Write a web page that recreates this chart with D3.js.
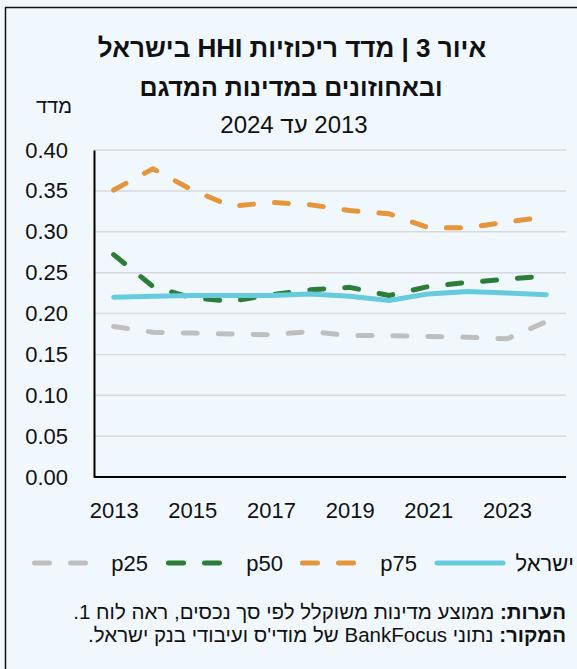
<!DOCTYPE html>
<html lang="he">
<head>
<meta charset="utf-8">
<script src="https://cdn.jsdelivr.net/npm/d3@7"></script>
<style>
  html, body { margin: 0; padding: 0; background: #f0f8fe; }
  svg { display: block; font-family: "Liberation Sans", Arial, sans-serif; }
</style>
</head>
<body>
<div id="wrapper"></div>
<script>
// data
const years = [2013, 2014, 2015, 2016, 2017, 2018, 2019, 2020, 2021, 2022, 2023, 2024];
const yearTicks = [2013, 2015, 2017, 2019, 2021, 2023];
const israel = [0.220, 0.221, 0.222, 0.222, 0.222, 0.224, 0.221, 0.216, 0.224, 0.227, 0.225, 0.223];
const p25 = [0.184, 0.177, 0.176, 0.175, 0.174, 0.178, 0.173, 0.173, 0.172, 0.171, 0.169, 0.190];
const p50 = [0.272, 0.233, 0.219, 0.215, 0.223, 0.229, 0.232, 0.222, 0.233, 0.238, 0.242, 0.246];
const p75 = [0.351, 0.377, 0.351, 0.331, 0.336, 0.333, 0.326, 0.322, 0.305, 0.305, 0.312, 0.318];
const yTicks = [0, 0.05, 0.1, 0.15, 0.2, 0.25, 0.3, 0.35, 0.4];

const series = [
  { name: "ישראל", values: israel, color: "#66cbdd", dashed: false },
  { name: "p75", values: p75, color: "#e5963a", dashed: true },
  { name: "p50", values: p50, color: "#2b7d38", dashed: true },
  { name: "p25", values: p25, color: "#bfbfbf", dashed: true }
];

const dimensions = {
  width: 577,
  height: 669,
  margin: { top: 150, right: 11, bottom: 192, left: 94 }
};
dimensions.boundedWidth = dimensions.width - dimensions.margin.left - dimensions.margin.right;
dimensions.boundedHeight = dimensions.height - dimensions.margin.top - dimensions.margin.bottom;

const wrapper = d3.select("#wrapper")
  .append("svg")
  .attr("width", dimensions.width)
  .attr("height", dimensions.height);

// frame
wrapper.append("rect")
  .attr("x", 5.5).attr("y", 7.5)
  .attr("width", 600).attr("height", 700)
  .attr("fill", "#f0f8fe")
  .attr("stroke", "#111").attr("stroke-width", 1.5);

// titles
const titles = wrapper.append("g").attr("text-anchor", "middle").attr("fill", "#111");
titles.append("text").attr("x", 292).attr("y", 57)
  .attr("direction", "rtl")
  .attr("font-size", 26).attr("font-weight", "bold")
  .text("איור 3 | מדד ריכוזיות HHI בישראל");
titles.append("text").attr("x", 291).attr("y", 96)
  .attr("direction", "rtl")
  .attr("font-size", 25).attr("font-weight", "bold")
  .text("ובאחוזונים במדינות המדגם");
titles.append("text").attr("x", 294).attr("y", 133)
  .attr("direction", "rtl")
  .attr("font-size", 24)
  .text("2013 עד 2024");
titles.append("text").attr("x", 54).attr("y", 113)
  .attr("font-size", 20)
  .text("מדד");

const bounds = wrapper.append("g")
  .attr("transform", `translate(${dimensions.margin.left},${dimensions.margin.top})`);

// scales
const xScale = d3.scalePoint()
  .domain(years)
  .range([0, dimensions.boundedWidth])
  .padding(0.5);

const yScale = d3.scaleLinear()
  .domain([0, 0.4])
  .range([dimensions.boundedHeight, 0]);

// gridlines
bounds.append("g")
  .selectAll("line")
  .data(yTicks.filter(d => d > 0))
  .join("line")
  .attr("x1", 0).attr("x2", dimensions.boundedWidth)
  .attr("y1", d => yScale(d)).attr("y2", d => yScale(d))
  .attr("stroke", "#d9d9d9").attr("stroke-width", 1.5);

// lines (draw back to front)
const lineGenerator = d3.line()
  .x((d, i) => xScale(years[i]))
  .y(d => yScale(d));

bounds.append("g")
  .selectAll("path")
  .data(series.slice().reverse())
  .join("path")
  .attr("d", d => lineGenerator(d.values))
  .attr("fill", "none")
  .attr("stroke", d => d.color)
  .attr("stroke-width", 5)
  .attr("stroke-linecap", "round")
  .attr("stroke-linejoin", "round")
  .attr("stroke-dasharray", d => d.dashed ? "14,21" : null);

// axes
const yAxisGenerator = d3.axisLeft(yScale)
  .tickValues(yTicks)
  .tickFormat(d3.format(".2f"))
  .tickSize(0)
  .tickPadding(26);
const yAxis = bounds.append("g").call(yAxisGenerator);
yAxis.select(".domain").attr("stroke", "#000").attr("stroke-width", 2);
yAxis.selectAll("text")
  .attr("font-size", 22).attr("fill", "#111")
  .attr("font-family", "Liberation Sans, Arial, sans-serif");

const xAxisGenerator = d3.axisBottom(xScale)
  .tickValues(yearTicks)
  .tickSize(0)
  .tickPadding(25);
const xAxis = bounds.append("g")
  .attr("transform", `translate(0,${dimensions.boundedHeight})`)
  .call(xAxisGenerator);
xAxis.select(".domain").attr("stroke", "#000").attr("stroke-width", 2)
  .attr("d", `M0,0H${dimensions.boundedWidth}`);
xAxis.selectAll("text")
  .attr("font-size", 22).attr("fill", "#111")
  .attr("font-family", "Liberation Sans, Arial, sans-serif");

// legend
const legendItems = [
  { s: series[0], textRight: 574, lineX1: 437, lineX2: 503 },
  { s: series[1], textRight: 417, lineX1: 302.5, lineX2: 355 },
  { s: series[2], textRight: 283, lineX1: 168.5, lineX2: 221 },
  { s: series[3], textRight: 148, lineX1: 34.5, lineX2: 87 }
];
const legendY = 563;
const legend = wrapper.append("g");
legendItems.forEach(item => {
  legend.append("line")
    .attr("x1", item.lineX1).attr("x2", item.lineX2)
    .attr("y1", legendY).attr("y2", legendY)
    .attr("stroke", item.s.color)
    .attr("stroke-width", 5)
    .attr("stroke-linecap", "round")
    .attr("stroke-dasharray", item.s.dashed ? "15,21" : null);
  legend.append("text")
    .attr("x", item.textRight).attr("y", legendY)
    .attr("dy", "0.35em")
    .attr("text-anchor", "end")
    .attr("font-size", 22).attr("fill", "#111")
    .text(item.s.name);
});

// notes
const notes = wrapper.append("g").attr("font-size", 20.5).attr("fill", "#111");
const note1 = notes.append("text").attr("x", 566).attr("y", 619)
  .attr("direction", "rtl").attr("text-anchor", "start");
note1.append("tspan").attr("font-weight", "bold").text("הערות:");
note1.append("tspan").text(" ממוצע מדינות משוקלל לפי סך נכסים, ראה לוח 1.");
const note2 = notes.append("text").attr("x", 566).attr("y", 642)
  .attr("direction", "rtl").attr("text-anchor", "start");
note2.append("tspan").attr("font-weight", "bold").text("המקור:");
note2.append("tspan").text(" נתוני BankFocus של מודי'ס ועיבודי בנק ישראל.");
</script>
</body>
</html>
